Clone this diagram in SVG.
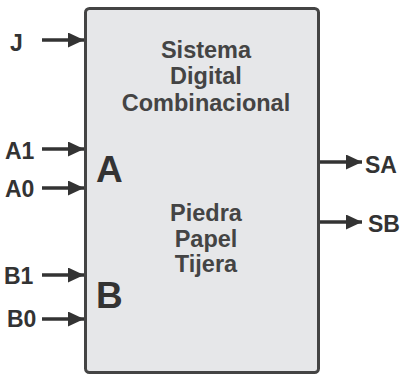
<svg xmlns="http://www.w3.org/2000/svg" width="401" height="375" viewBox="0 0 401 375">
<defs>
<marker id="ah" markerWidth="16" markerHeight="15" refX="16" refY="7.5" orient="auto" markerUnits="userSpaceOnUse">
<path d="M0,0 L16,7.5 L0,15 Z" fill="#333"/>
</marker>
</defs>
<style>
.lbl{font-family:"Liberation Sans",Arial,sans-serif;font-weight:bold;fill:#333}
.io{font-size:23px}
.big{font-size:37px}
.mid{font-size:23.5px;text-anchor:middle;fill:#444}
.wire{stroke:#333;stroke-width:3.5;fill:none}
</style>
<rect width="401" height="375" fill="#fff"/>
<g id="block">
<rect x="85.5" y="8.5" width="233" height="364" rx="4" fill="#e6e7e9" stroke="#444" stroke-width="3"/>
<text class="lbl big" x="96" y="182">A</text>
<text class="lbl big" x="96" y="308">B</text>
<text class="lbl mid" x="206" y="58">Sistema</text>
<text class="lbl mid" x="206" y="84">Digital</text>
<text class="lbl mid" x="206" y="111">Combinacional</text>
<text class="lbl mid" x="206" y="221">Piedra</text>
<text class="lbl mid" x="206" y="247">Papel</text>
<text class="lbl mid" x="206" y="272">Tijera</text>
</g>
<g id="J"><text class="lbl io" x="10" y="51">J</text></g>
<g id="A1"><text class="lbl io" x="5" y="159">A1</text></g>
<g id="A0"><text class="lbl io" x="5" y="197">A0</text></g>
<g id="B1"><text class="lbl io" x="4" y="284">B1</text></g>
<g id="B0"><text class="lbl io" x="7" y="327">B0</text></g>
<g id="SA"><text class="lbl io" x="365" y="173">SA</text></g>
<g id="SB"><text class="lbl io" x="368" y="232">SB</text></g>
<g id="connectors">
<line class="wire" x1="42" y1="40" x2="84" y2="40" marker-end="url(#ah)"/>
<line class="wire" x1="42" y1="149" x2="84" y2="149" marker-end="url(#ah)"/>
<line class="wire" x1="42" y1="188" x2="84" y2="188" marker-end="url(#ah)"/>
<line class="wire" x1="42" y1="275" x2="84" y2="275" marker-end="url(#ah)"/>
<line class="wire" x1="42" y1="319" x2="84" y2="319" marker-end="url(#ah)"/>
<line class="wire" x1="320" y1="162" x2="362" y2="162" marker-end="url(#ah)"/>
<line class="wire" x1="320" y1="222" x2="362" y2="222" marker-end="url(#ah)"/>
</g>
</svg>
